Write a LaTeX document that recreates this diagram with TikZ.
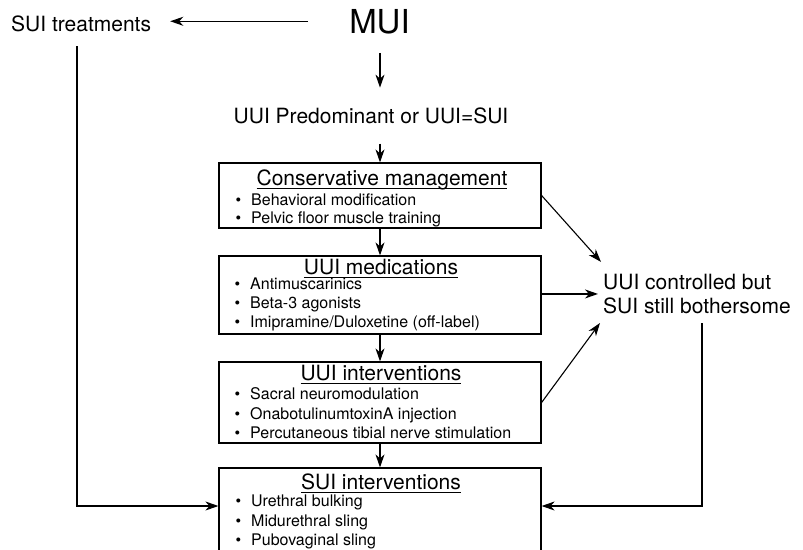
\documentclass[tikz,border=0pt]{standalone}
\usepackage{fontspec}
\setmainfont{TeX Gyre Heros}
\usetikzlibrary{arrows.meta}
\newcommand\myul[1]{\setbox0\hbox{#1}\rlap{\rule[-3.8pt]{\wd0}{1pt}}\box0}
\begin{document}
\begin{tikzpicture}[x=1pt,y=-1pt,
  arr/.style={-{Stealth[length=13pt,width=9pt,inset=4pt]}, line width=1.1pt},
  ln/.style={line width=1.1pt},
  box/.style={draw, line width=1.2pt, minimum width=322pt, inner sep=0pt},
  lbl/.style={font=\fontsize{21}{24}\selectfont, inner sep=0pt},
  ttl/.style={font=\fontsize{21}{24}\selectfont, inner sep=0pt, anchor=base},
  itm/.style={font=\fontsize{16}{19}\selectfont, inner sep=0pt, anchor=base west},
  bul/.style={font=\fontsize{16}{19}\selectfont, inner sep=0pt, anchor=base},
]
\useasboundingbox (0,0) rectangle (803,549);

% top labels
\node[lbl, font=\fontsize{33}{36}\selectfont, anchor=base] (mui) at (379.5,33) {MUI};
\node[lbl, anchor=base west] (st) at (11,31) {SUI treatments};
\node[lbl, anchor=base] (pred) at (371,123) {UUI Predominant or UUI=SUI};
\node[lbl, anchor=south west, align=left] (ctrl) at (603,314) {UUI controlled but\\SUI still bothersome};

% boxes
\node[box, minimum height=65pt] (b1) at (380,195.5) {};
\node[box, minimum height=78pt] (b2) at (380,295) {};
\node[box, minimum height=81pt] (b3) at (380,402.5) {};
\node[box, minimum height=83pt] (b4) at (380,509.5) {};

% box 1
\node[ttl] (t1) at (382,185) {\myul{Conservative management}};
\node[bul] (b1a) at (238.5,205) {•};
\node[itm] (i1a) at (251,205) {Behavioral modification};
\node[bul] (b1b) at (238.5,223.5) {•};
\node[itm] (i1b) at (251,223.5) {Pelvic floor muscle training};

% box 2
\node[ttl] (t2) at (381,274.5) {\myul{UUI medications}};
\node[bul] (b2a) at (237.5,289) {•};
\node[itm] (i2a) at (250,289) {Antimuscarinics};
\node[bul] (b2b) at (237.5,308.3) {•};
\node[itm] (i2b) at (250,308.3) {Beta-3 agonists};
\node[bul] (b2c) at (237.5,327.7) {•};
\node[itm] (i2c) at (250,327.7) {Imipramine/Duloxetine (off-label)};

% box 3
\node[ttl] (t3) at (381,380) {\myul{UUI interventions}};
\node[bul] (b3a) at (237.5,399) {•};
\node[itm] (i3a) at (250,399) {Sacral neuromodulation};
\node[bul] (b3b) at (237.5,419) {•};
\node[itm] (i3b) at (250,419) {OnabotulinumtoxinA injection};
\node[bul] (b3c) at (237.5,438.3) {•};
\node[itm] (i3c) at (250,438.3) {Percutaneous tibial nerve stimulation};

% box 4
\node[ttl] (t4) at (381,489.3) {\myul{SUI interventions}};
\node[bul] (b4a) at (238.5,506.7) {•};
\node[itm] (i4a) at (251,506.7) {Urethral bulking};
\node[bul] (b4b) at (238.5,526) {•};
\node[itm] (i4b) at (251,526) {Midurethral sling};
\node[bul] (b4c) at (238.5,545) {•};
\node[itm] (i4c) at (251,545) {Pubovaginal sling};

% helper coordinates
\coordinate (lc) at (77,506);
\coordinate (s0) at (77,46);
\coordinate (r0) at (702,323);

% connectors
\draw[arr] ([xshift=-41pt]mui.west) -- ([xshift=19pt]st.east |- mui.west);
\draw[arr] ([yshift=-19pt]mui.south -| b1.north) -- ([yshift=19.5pt]b1.north |- pred.north);
\draw[arr] ([yshift=-20pt]b1.north |- pred.south) -- (b1.north);
\draw[arr] (b1.south) -- (b2.north);
\draw[arr] (b2.south) -- (b3.north);
\draw[arr] (b3.south) -- (b4.north);

\draw[arr] (b1.east) -- ([xshift=-2pt,yshift=12pt]ctrl.north west);
\draw[arr] (b2.east |- ctrl.west) -- ([xshift=-5pt]ctrl.west);
\draw[arr] (b3.east) -- ([xshift=-3pt,yshift=-9pt]ctrl.south west);

\draw[arr] (s0) |- (b4.west |- lc);
\draw[arr] (r0) |- (b4.east |- lc);
\end{tikzpicture}
\end{document}
